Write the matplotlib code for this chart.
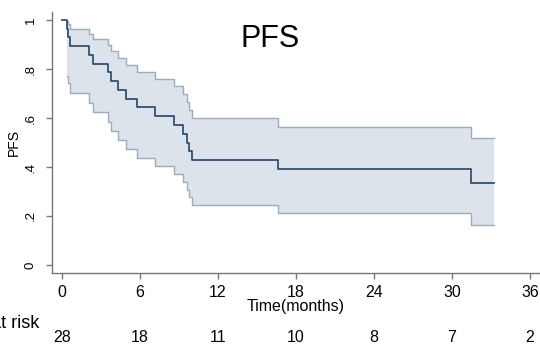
import matplotlib
matplotlib.use("Agg")
import matplotlib.pyplot as plt

plt.rcParams["font.family"] = ["Liberation Sans", "DejaVu Sans"]

# Kaplan-Meier estimate of progression-free survival (months)
event_times = [0.35, 0.45, 0.6, 2.1, 2.4, 3.5, 3.8, 4.3, 4.9, 5.75, 7.15,
               8.6, 9.3, 9.6, 9.8, 10.0, 16.6, 31.5]
surv = [0.964, 0.929, 0.893, 0.857, 0.821, 0.786, 0.750, 0.714, 0.679,
        0.643, 0.607, 0.571, 0.536, 0.500, 0.464, 0.429, 0.390, 0.334]
ci_upper = [0.995, 0.982, 0.964, 0.944, 0.922, 0.898, 0.872, 0.846, 0.818,
            0.789, 0.760, 0.730, 0.698, 0.666, 0.633, 0.600, 0.563, 0.517]
ci_lower = [0.773, 0.744, 0.704, 0.663, 0.623, 0.584, 0.546, 0.509, 0.473,
            0.438, 0.404, 0.371, 0.338, 0.306, 0.276, 0.246, 0.213, 0.162]
last_followup = 33.2

# Number at risk table
risk_times = [0, 6, 12, 18, 24, 30, 36]
risk_counts = [28, 18, 11, 10, 8, 7, 2]

y_ticks = [0, 0.2, 0.4, 0.6, 0.8, 1.0]
y_ticklabels = ["0", ".2", ".4", ".6", ".8", "1"]

W, H = 540, 344
fig = plt.figure(figsize=(W / 100, H / 100), dpi=100)
fig.patch.set_facecolor("white")
ax = fig.add_axes([52 / W, 1 - 273 / H, (540 - 52) / W, (273 - 11.7) / H])

# confidence band
band_t = event_times + [last_followup]
band_hi = ci_upper + [ci_upper[-1]]
band_lo = ci_lower + [ci_lower[-1]]
ax.fill_between(band_t, band_lo, band_hi, step="post",
                facecolor="#dce3eb", edgecolor="none", zorder=1)
ax.step(band_t, band_hi, where="post", color="#9eadbb", lw=1.0, zorder=2)
ax.step(band_t, band_lo, where="post", color="#9eadbb", lw=1.0, zorder=2)

# survival curve
km_t = [0] + event_times + [last_followup]
km_s = [1.0] + surv + [surv[-1]]
ax.step(km_t, km_s, where="post", color="#2b4c6f", lw=1.25, zorder=3)

ax.set_xlim(-0.77, 36.77)
ax.set_ylim(-0.0327, 1.034)

for side in ("top", "right"):
    ax.spines[side].set_visible(False)
for side in ("left", "bottom"):
    ax.spines[side].set_color("#777777")
    ax.spines[side].set_linewidth(1.0)

ax.set_xticks(risk_times)
ax.set_xticklabels([str(t) for t in risk_times], fontsize=11.5)
ax.set_yticks(y_ticks)
ax.set_yticklabels(y_ticklabels, fontsize=9.5, rotation=90, va="center")
ax.tick_params(axis="x", length=4, width=1, color="#777777", pad=4.5)
ax.tick_params(axis="y", length=4, width=1, color="#777777", pad=7)

ax.set_xlabel("Time(months)", fontsize=11.5, labelpad=-0.5)
fig.text(14 / W, 1 - 142 / H, "PFS", rotation=90, fontsize=10,
         ha="center", va="center")

fig.text(270 / W, 1 - 47 / H, "PFS", fontsize=22, ha="center", va="baseline")

# number-at-risk row
fig.text(39 / W, 1 - 323 / H, "Number at risk", fontsize=13,
         ha="right", va="center")
for t, n in zip(risk_times, risk_counts):
    x_fig = fig.transFigure.inverted().transform(ax.transData.transform((t, 0)))[0]
    fig.text(x_fig, 1 - 337.5 / H, str(n), fontsize=11.5, ha="center", va="center")

fig.savefig("out.png", dpi=100, facecolor="white")
